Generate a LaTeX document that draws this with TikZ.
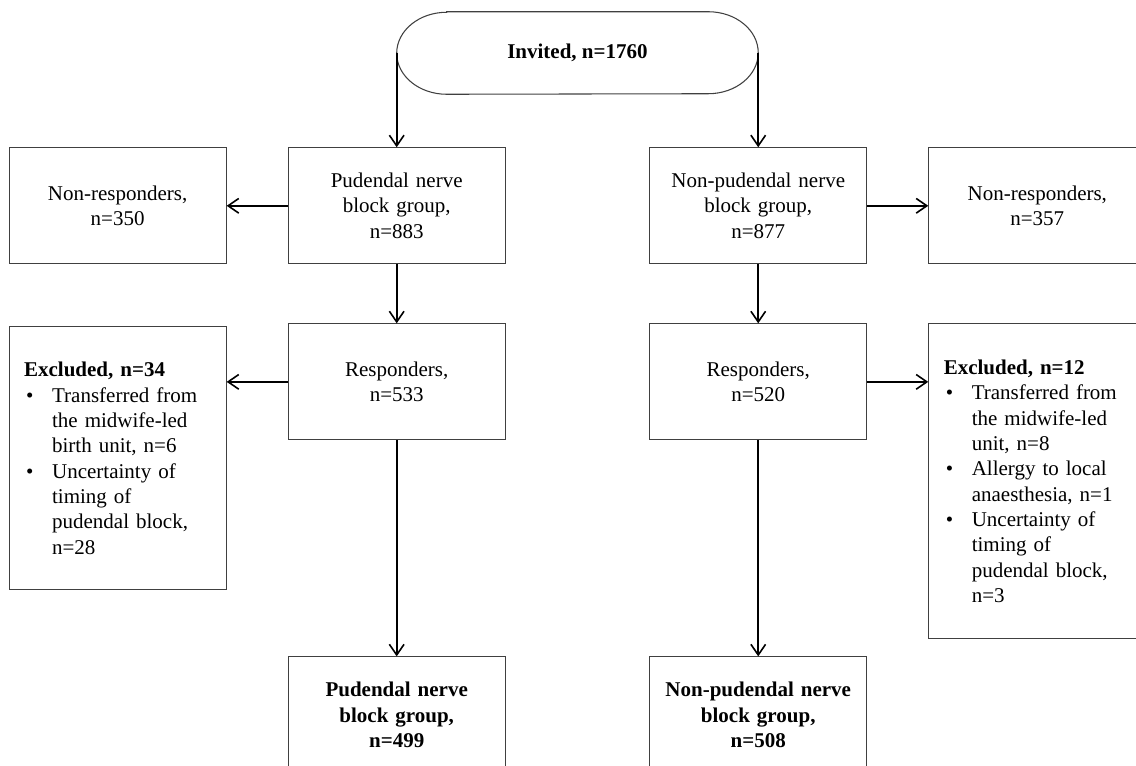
\documentclass[tikz,border=0pt]{standalone}
\usepackage{fontspec}
\setmainfont{Liberation Serif}
\usetikzlibrary{positioning, arrows.meta}

\newcommand{\fsz}{\fontsize{15.75}{19}\selectfont}
\newcommand{\bul}{\makebox[21pt][l]{\hspace{1.5pt}\textbullet}}
\newcommand{\ind}{\hspace*{21pt}}

\begin{document}
\begin{tikzpicture}[node distance=44.25pt, font=\fsz]
\tikzstyle{block} = [rectangle, draw=black!75, line width=0.8pt, minimum width=162.75pt, minimum height=87pt, text width=150pt, align=center, inner sep=0pt]
\tikzstyle{result} = [block, font=\fsz\bfseries]
\tikzstyle{excl} = [block, text width=140.25pt, align=left]
\tikzstyle{start} = [draw=none, minimum width=270.75pt, minimum height=61.5pt, inner sep=0pt, font=\fsz\bfseries]
\tikzstyle{outline} = [draw=black!75, line width=0.8pt]
\tikzstyle{line} = [draw, -{Straight Barb[length=8pt, width=11pt]}, line width=1.2pt]

\useasboundingbox (0,0) rectangle (852pt,-574.5pt);
\clip (0,0) rectangle (852pt,-574.5pt);

\node (inv) [start] at (433.1pt,-39.75pt) {Invited, n=1760};
\draw [outline] ([xshift=37.5pt]inv.north west) -- ([xshift=-37.5pt]inv.north east)
    arc[start angle=90, end angle=-90, x radius=37.5pt, y radius=30.75pt]
    -- ([xshift=37.5pt]inv.south west)
    arc[start angle=270, end angle=90, x radius=37.5pt, y radius=30.75pt] -- cycle;

\node (pnb) [block, below=39.75pt of inv.south west] {Pudendal nerve\\ block group,\\ n=883};
\node (npb) [block, below=39.75pt of inv.south east] {Non-pudendal nerve\\ block group,\\ n=877};
\node (nrL) [block, left=45.75pt of pnb] {Non-responders,\\ n=350};
\node (nrR) [block, right=45.75pt of npb] {Non-responders,\\ n=357};
\node (rsL) [block, below=of pnb] {Responders,\\ n=533};
\node (rsR) [block, below=of npb] {Responders,\\ n=520};
\node (exL) [excl, below=46.5pt of nrL, minimum height=197.25pt] {\textbf{Excluded, n=34}\\
    \bul Transferred from\\ \ind the midwife-led\\ \ind birth unit, n=6\\
    \bul Uncertainty of\\ \ind timing of\\ \ind pudendal block,\\ \ind n=28};
\node (exR) [excl, below=of nrR, minimum height=236.25pt] {\textbf{Excluded, n=12}\\
    \bul Transferred from\\ \ind the midwife-led\\ \ind unit, n=8\\
    \bul Allergy to local\\ \ind anaesthesia, n=1\\
    \bul Uncertainty of\\ \ind timing of\\ \ind pudendal block,\\ \ind n=3};
\node (finL) [result, below=162pt of rsL] {Pudendal nerve\\ block group,\\ n=499};
\node (finR) [result, below=162pt of rsR] {Non-pudendal nerve\\ block group,\\ n=508};

\draw [line] (inv.west) -- (pnb.north);
\draw [line] (inv.east) -- (npb.north);
\draw [line] (pnb.west) -- (nrL.east);
\draw [line] (npb.east) -- (nrR.west);
\draw [line] (pnb) -- (rsL);
\draw [line] (npb) -- (rsR);
\draw [line] (rsL.west) -- (rsL.west -| exL.east);
\draw [line] (rsR.east) -- (rsR.east -| exR.west);
\draw [line] (rsL) -- (finL);
\draw [line] (rsR) -- (finR);
\end{tikzpicture}
\end{document}
